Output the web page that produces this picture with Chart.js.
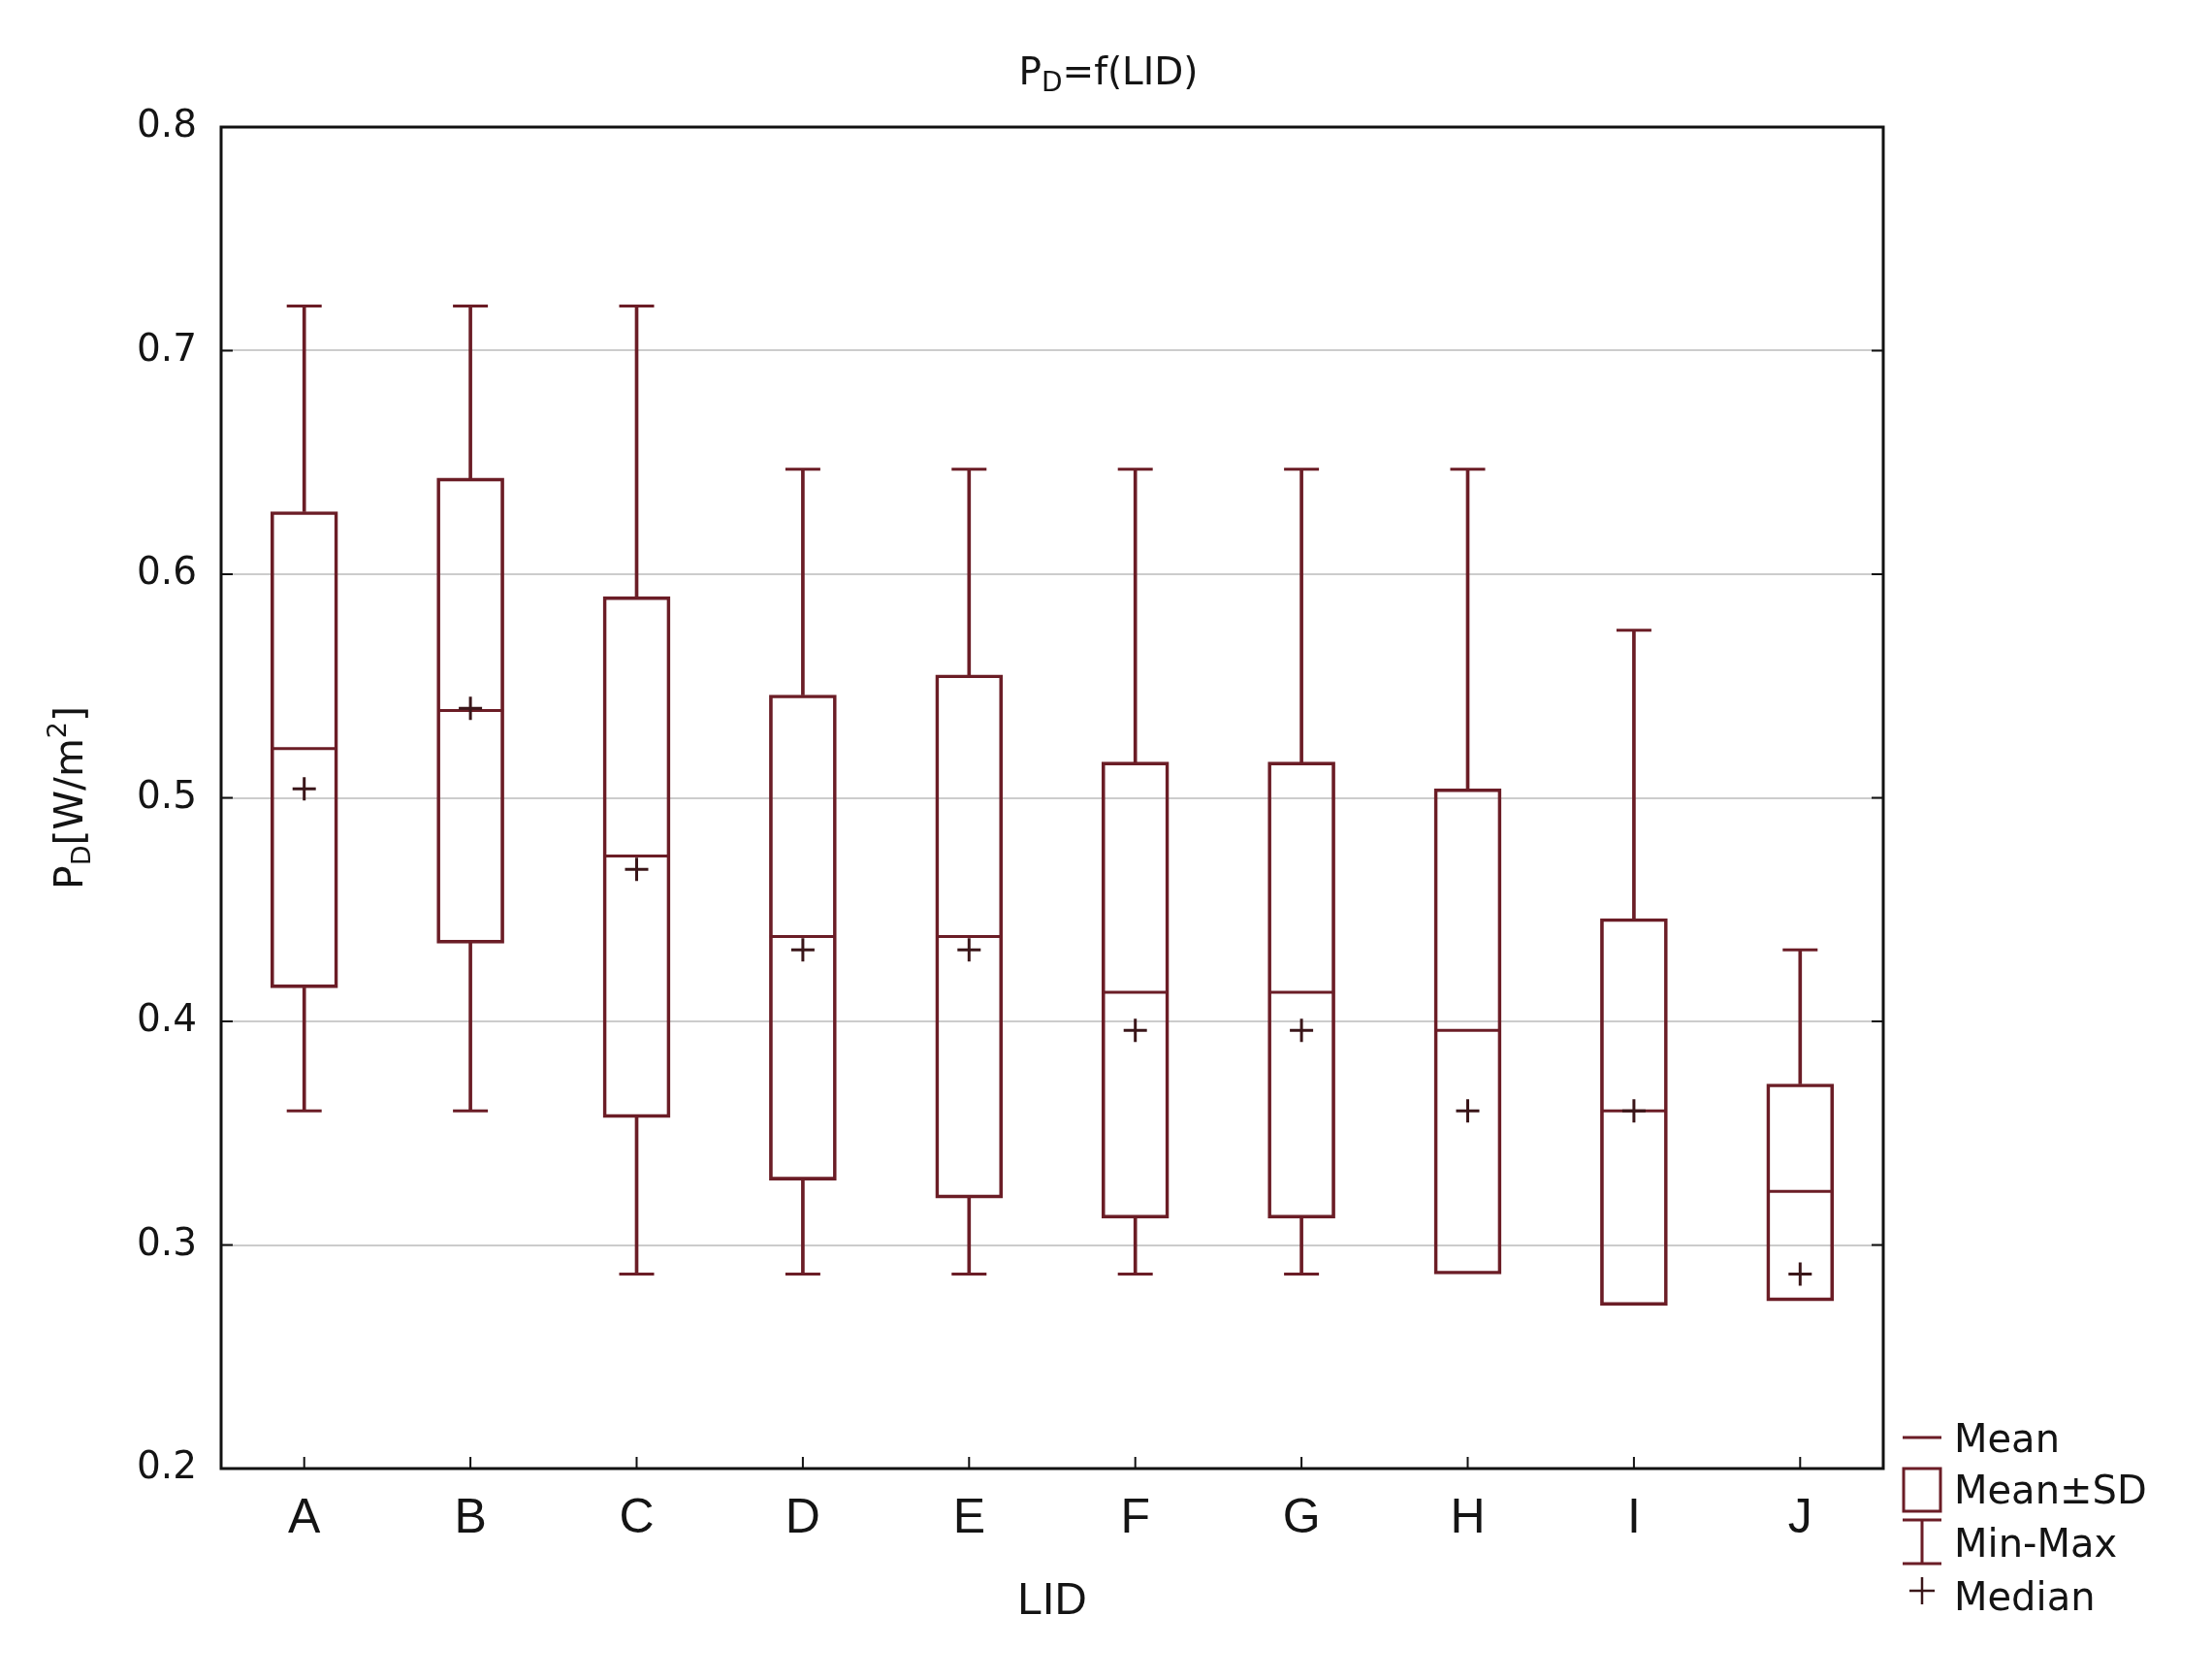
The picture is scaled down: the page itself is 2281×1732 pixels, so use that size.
<!DOCTYPE html>
<html>
<head>
<meta charset="utf-8">
<script src="https://cdn.jsdelivr.net/npm/chart.js@4.4.0/dist/chart.umd.min.js"></script>
<style>
  html, body { margin: 0; padding: 0; background: #fff; }
  canvas { display: block; }
</style>
</head>
<body>
<canvas id="chart" width="2281" height="1732"></canvas>
<script>
// values
const categories = ['A', 'B', 'C', 'D', 'E', 'F', 'G', 'H', 'I', 'J']
const means   = [0.522, 0.539, 0.474, 0.438, 0.438, 0.413, 0.413, 0.396, 0.360, 0.324]
const sdLow   = [0.415, 0.435, 0.357, 0.329, 0.321, 0.312, 0.312, 0.287, 0.273, 0.275]
const sdHigh  = [0.628, 0.643, 0.590, 0.546, 0.555, 0.516, 0.516, 0.504, 0.446, 0.372]
const mins    = [0.360, 0.360, 0.287, 0.287, 0.287, 0.287, 0.287, 0.287, 0.287, 0.287]
const maxs    = [0.720, 0.720, 0.720, 0.647, 0.647, 0.647, 0.647, 0.647, 0.575, 0.432]
const medians = [0.504, 0.540, 0.468, 0.432, 0.432, 0.396, 0.396, 0.360, 0.360, 0.287]
const legendLabels = ['Mean', 'Mean\u00b1SD', 'Min-Max', 'Median']

const boxColor = '#6b1d26'
const plusColor = '#3a1619'
const textColor = '#141414'

// draws a list of text pieces one after another, some raised or lowered
function drawPieces(ctx, pieces, x, y, align) {
  let total = 0
  pieces.forEach(p => {
    ctx.font = p.size + 'px ' + p.family
    total += ctx.measureText(p.text).width
  })
  let cx = align === 'center' ? x - total / 2 : x
  pieces.forEach(p => {
    ctx.font = p.size + 'px ' + p.family
    ctx.fillText(p.text, cx, y + (p.dy || 0))
    cx += ctx.measureText(p.text).width
  })
}

const decorPlugin = {
  id: 'decor',
  afterDraw(chart) {
    const ctx = chart.ctx
    const area = chart.chartArea
    const y = chart.scales.y
    const x = chart.scales.x
    ctx.save()

    // frame
    ctx.strokeStyle = '#111'
    ctx.lineWidth = 3
    ctx.strokeRect(area.left, area.top, area.right - area.left, area.bottom - area.top)

    // inward tick marks
    ctx.lineWidth = 2
    ctx.beginPath()
    y.ticks.forEach(t => {
      const py = y.getPixelForValue(t.value)
      ctx.moveTo(area.left, py); ctx.lineTo(area.left + 12, py)
      ctx.moveTo(area.right, py); ctx.lineTo(area.right - 12, py)
    })
    categories.forEach((c, i) => {
      const px = x.getPixelForValue(i)
      ctx.moveTo(px, area.bottom); ctx.lineTo(px, area.bottom - 12)
    })
    ctx.stroke()

    // title
    ctx.fillStyle = textColor
    ctx.textBaseline = 'alphabetic'
    ctx.textAlign = 'left'
    const fam = '"DejaVu Sans"'
    drawPieces(ctx, [
      { text: 'P', size: 39, family: fam },
      { text: 'D', size: 28, family: fam, dy: 7 },
      { text: '=f(LID)', size: 39, family: fam }
    ], 1143, 87, 'center')

    // y axis title, rotated
    ctx.save()
    ctx.translate(85, (area.top + area.bottom) / 2)
    ctx.rotate(-Math.PI / 2)
    drawPieces(ctx, [
      { text: 'P', size: 41, family: fam },
      { text: 'D', size: 27, family: fam, dy: 8 },
      { text: '[W/m', size: 41, family: fam },
      { text: '2', size: 27, family: fam, dy: -17 },
      { text: ']', size: 41, family: fam }
    ], 0, 0, 'center')
    ctx.restore()

    // legend
    const lx = area.right + 20
    const lw = 40
    const mid = lx + lw / 2
    const b = area.bottom
    ctx.strokeStyle = boxColor
    ctx.lineWidth = 3
    ctx.beginPath()
    ctx.moveTo(lx, b - 32); ctx.lineTo(lx + lw, b - 32)
    ctx.stroke()
    ctx.strokeRect(lx + 1, b, lw - 2, 44)
    ctx.beginPath()
    ctx.moveTo(lx, b + 53); ctx.lineTo(lx + lw, b + 53)
    ctx.moveTo(mid, b + 53); ctx.lineTo(mid, b + 98)
    ctx.moveTo(lx, b + 98); ctx.lineTo(lx + lw, b + 98)
    ctx.stroke()
    ctx.strokeStyle = plusColor
    ctx.lineWidth = 2.5
    ctx.beginPath()
    ctx.moveTo(mid - 13, b + 126); ctx.lineTo(mid + 13, b + 126)
    ctx.moveTo(mid, b + 112); ctx.lineTo(mid, b + 140)
    ctx.stroke()

    ctx.fillStyle = textColor
    ctx.font = '40px ' + fam
    const rows = [-17, 36, 91, 146]
    legendLabels.forEach((t, i) => ctx.fillText(t, area.right + 73, b + rows[i]))
    ctx.restore()
  }
}

function boxData() {
  return categories.map((c, i) => [sdLow[i], sdHigh[i]])
}
function upperWhiskers() {
  return categories.map((c, i) => maxs[i] > sdHigh[i] ? [sdHigh[i], maxs[i]] : null)
}
function lowerWhiskers() {
  return categories.map((c, i) => mins[i] < sdLow[i] ? [mins[i], sdLow[i]] : null)
}
function lowerCaps() {
  return categories.map((c, i) => mins[i] < sdLow[i] ? mins[i] : null)
}

Chart.defaults.font.family = '"Liberation Sans", Arial, sans-serif'
Chart.defaults.color = textColor

new Chart(document.getElementById('chart'), {
  type: 'bar',
  data: {
    labels: categories,
    datasets: [
      {
        type: 'line', label: 'Median', data: medians, showLine: false,
        pointStyle: 'cross', pointRadius: 12, pointBorderWidth: 3,
        pointBorderColor: plusColor, borderColor: plusColor
      },
      {
        type: 'line', label: 'Mean', data: means, showLine: false,
        pointStyle: 'line', pointRadius: 34, pointBorderWidth: 3,
        pointBorderColor: boxColor, borderColor: boxColor
      },
      {
        type: 'line', label: 'Max', data: maxs, showLine: false,
        pointStyle: 'line', pointRadius: 18, pointBorderWidth: 3,
        pointBorderColor: boxColor, borderColor: boxColor
      },
      {
        type: 'line', label: 'Min', data: lowerCaps(), showLine: false,
        pointStyle: 'line', pointRadius: 18, pointBorderWidth: 3,
        pointBorderColor: boxColor, borderColor: boxColor
      },
      {
        label: 'Mean\u00b1SD', data: boxData(), grouped: false,
        barThickness: 69, borderWidth: 3, borderSkipped: false,
        borderColor: boxColor, backgroundColor: 'rgba(0,0,0,0)'
      },
      {
        label: 'upper', data: upperWhiskers(), grouped: false,
        barThickness: 3, borderWidth: 0, backgroundColor: boxColor
      },
      {
        label: 'lower', data: lowerWhiskers(), grouped: false,
        barThickness: 3, borderWidth: 0, backgroundColor: boxColor
      }
    ]
  },
  options: {
    responsive: false,
    animation: false,
    events: [],
    layout: { padding: { top: 131, right: 339, left: 0, bottom: 0 } },
    plugins: {
      legend: { display: false },
      tooltip: { enabled: false }
    },
    scales: {
      x: {
        grid: { display: false, drawTicks: false },
        border: { display: false },
        ticks: { font: { size: 50 }, color: textColor, padding: 22 },
        title: {
          display: true, text: 'LID',
          font: { size: 46 }, color: textColor,
          padding: { top: 0, bottom: 53 }
        },
        afterFit: scale => { scale.height = 218 }
      },
      y: {
        min: 0.2,
        max: 0.8,
        grid: { color: '#cccccc', lineWidth: 2, drawTicks: false },
        border: { display: false },
        ticks: {
          stepSize: 0.1,
          callback: v => v.toFixed(1),
          font: { family: '"DejaVu Sans"', size: 39 },
          color: textColor,
          padding: 25
        },
        afterFit: scale => { scale.width = 228 }
      }
    }
  },
  plugins: [decorPlugin]
})
</script>
</body>
</html>
